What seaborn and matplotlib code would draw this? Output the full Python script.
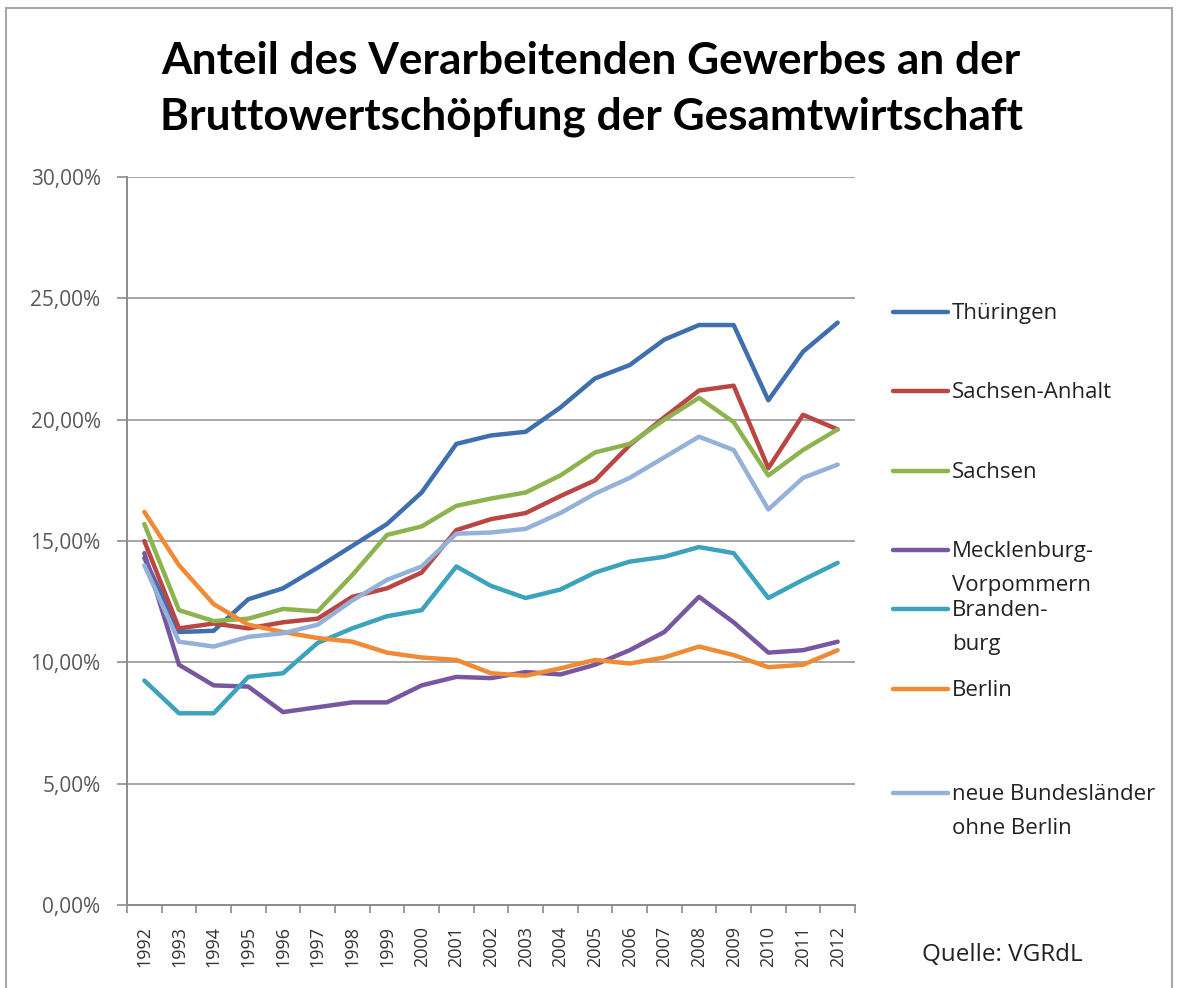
import numpy as np
import pandas as pd
import matplotlib
matplotlib.use("Agg")
import matplotlib.pyplot as plt
from matplotlib.lines import Line2D
from matplotlib.patches import Rectangle
import seaborn as sns

years = list(range(1992, 2013))
thueringen = [14.3, 11.25, 11.3, 12.6, 13.05, 13.9, 14.8, 15.7, 17.0, 19.0, 19.35, 19.5, 20.5, 21.7, 22.25, 23.3, 23.9, 23.9, 20.8, 22.8, 24.0]
sachsen_anhalt = [15.0, 11.4, 11.6, 11.4, 11.65, 11.8, 12.7, 13.05, 13.7, 15.45, 15.9, 16.15, 16.85, 17.5, 18.95, 20.1, 21.2, 21.4, 18.0, 20.2, 19.6]
sachsen = [15.7, 12.15, 11.7, 11.8, 12.2, 12.1, 13.6, 15.25, 15.6, 16.45, 16.75, 17.0, 17.7, 18.65, 19.0, 20.0, 20.9, 19.9, 17.7, 18.75, 19.6]
meck_vorp = [14.5, 9.9, 9.05, 9.0, 7.95, 8.15, 8.35, 8.35, 9.05, 9.4, 9.35, 9.6, 9.5, 9.9, 10.5, 11.25, 12.7, 11.65, 10.4, 10.5, 10.85]
brandenburg = [9.25, 7.9, 7.9, 9.4, 9.55, 10.8, 11.4, 11.9, 12.15, 13.95, 13.15, 12.65, 13.0, 13.7, 14.15, 14.35, 14.75, 14.5, 12.65, 13.4, 14.1]
berlin = [16.2, 14.0, 12.4, 11.55, 11.25, 11.0, 10.85, 10.4, 10.2, 10.1, 9.55, 9.45, 9.75, 10.1, 9.95, 10.2, 10.65, 10.3, 9.8, 9.9, 10.5]
neue_bl = [14.0, 10.85, 10.65, 11.05, 11.2, 11.55, 12.55, 13.4, 13.95, 15.3, 15.35, 15.5, 16.15, 16.95, 17.6, 18.45, 19.3, 18.75, 16.3, 17.6, 18.15]

series_names = ["Thüringen", "Sachsen-Anhalt", "Sachsen", "Mecklenburg-Vorpommern",
                "Brandenburg", "Berlin", "neue Bundesländer ohne Berlin"]
legend_labels = ["Thüringen", "Sachsen-Anhalt", "Sachsen", "Mecklenburg-\nVorpommern",
                 "Branden-\nburg", "Berlin", "neue Bundesländer\nohne Berlin"]
series_values = [thueringen, sachsen_anhalt, sachsen, meck_vorp, brandenburg, berlin, neue_bl]
colors = ["#3F6FAE", "#B94643", "#8DB34F", "#7657A0", "#3DA3BC", "#F08A35", "#94B1D9"]
y_ticks = [0, 5, 10, 15, 20, 25, 30]
y_tick_labels = ["0,00%", "5,00%", "10,00%", "15,00%", "20,00%", "25,00%", "30,00%"]

rows = []
for name, vals in zip(series_names, series_values):
    for y, v in zip(years, vals):
        rows.append({"Jahr": y, "Anteil": v, "Land": name})
df = pd.DataFrame(rows)

sns.set_theme(style="white")
plt.rcParams["font.family"] = ["Open Sans", "DejaVu Sans"]

fig = plt.figure(figsize=(11.82, 9.88), dpi=100)
ax = fig.add_axes([127/1182, 1 - 905/988, (855 - 127)/1182, (905 - 177)/988])

sns.lineplot(data=df, x="Jahr", y="Anteil", hue="Land", hue_order=series_names,
             palette=colors, linewidth=3.2, legend=False, ax=ax, sort=False)

ax.set_xlim(1991.5, 2012.5)
ax.set_ylim(0, 30)
ax.set_yticks(y_ticks)
ax.set_yticklabels(y_tick_labels, color="#595959", fontsize=15)
ax.set_xticks(years)
ax.set_xticklabels([str(y) for y in years], rotation=90, fontsize=13, color="#333333")
ax.set_xticks(np.arange(1991.5, 2013.0, 1.0), minor=True)
ax.tick_params(axis="x", which="major", length=0, pad=15)
ax.tick_params(axis="x", which="minor", length=6, width=1.2, color="#8C8C8C", direction="out", bottom=True)
ax.tick_params(axis="y", which="major", length=7, width=1.2, color="#8C8C8C", direction="out", left=True, pad=12)
ax.set_xlabel("")
ax.set_ylabel("")
ax.grid(axis="y", color="#A6A6A6", linewidth=1.4)
ax.grid(axis="x", visible=False)
ax.set_axisbelow(True)
for side in ["top", "right"]:
    ax.spines[side].set_visible(False)
for side in ["left", "bottom"]:
    ax.spines[side].set_color("#8C8C8C")
    ax.spines[side].set_linewidth(1.4)

fig.text(0.5, 1 - 61/988, "Anteil des Verarbeitenden Gewerbes an der", ha="center", va="center",
         fontsize=31.8, fontweight="bold", color="#000000", family=["Lato", "DejaVu Sans"])
fig.text(0.5, 1 - 117/988, "Bruttowertschöpfung der Gesamtwirtschaft", ha="center", va="center",
         fontsize=31.8, fontweight="bold", color="#000000", family=["Lato", "DejaVu Sans"])

# legend entries
leg_y = [312, 391, 471, 550, 609, 689, 793]
for lab, col, yy in zip(legend_labels, colors, leg_y):
    fig.add_artist(Line2D([893/1182, 948/1182], [1 - yy/988, 1 - yy/988], color=col,
                          linewidth=3.2, transform=fig.transFigure))
    fig.text(952/1182, 1 - (yy - 9)/988, lab, ha="left", va="top", fontsize=16,
             color="#222222", linespacing=1.8)

fig.text(922/1182, 1 - 955/988, "Quelle: VGRdL", ha="left", va="center", fontsize=17.5, color="#222222")

# chart frame
fig.add_artist(Rectangle((6/1182, -0.05), (1172 - 6)/1182, 1.05 - 8/988,
                         transform=fig.transFigure, fill=False, edgecolor="#A6A6A6", linewidth=1.5))

fig.savefig("out.png", dpi=100)
